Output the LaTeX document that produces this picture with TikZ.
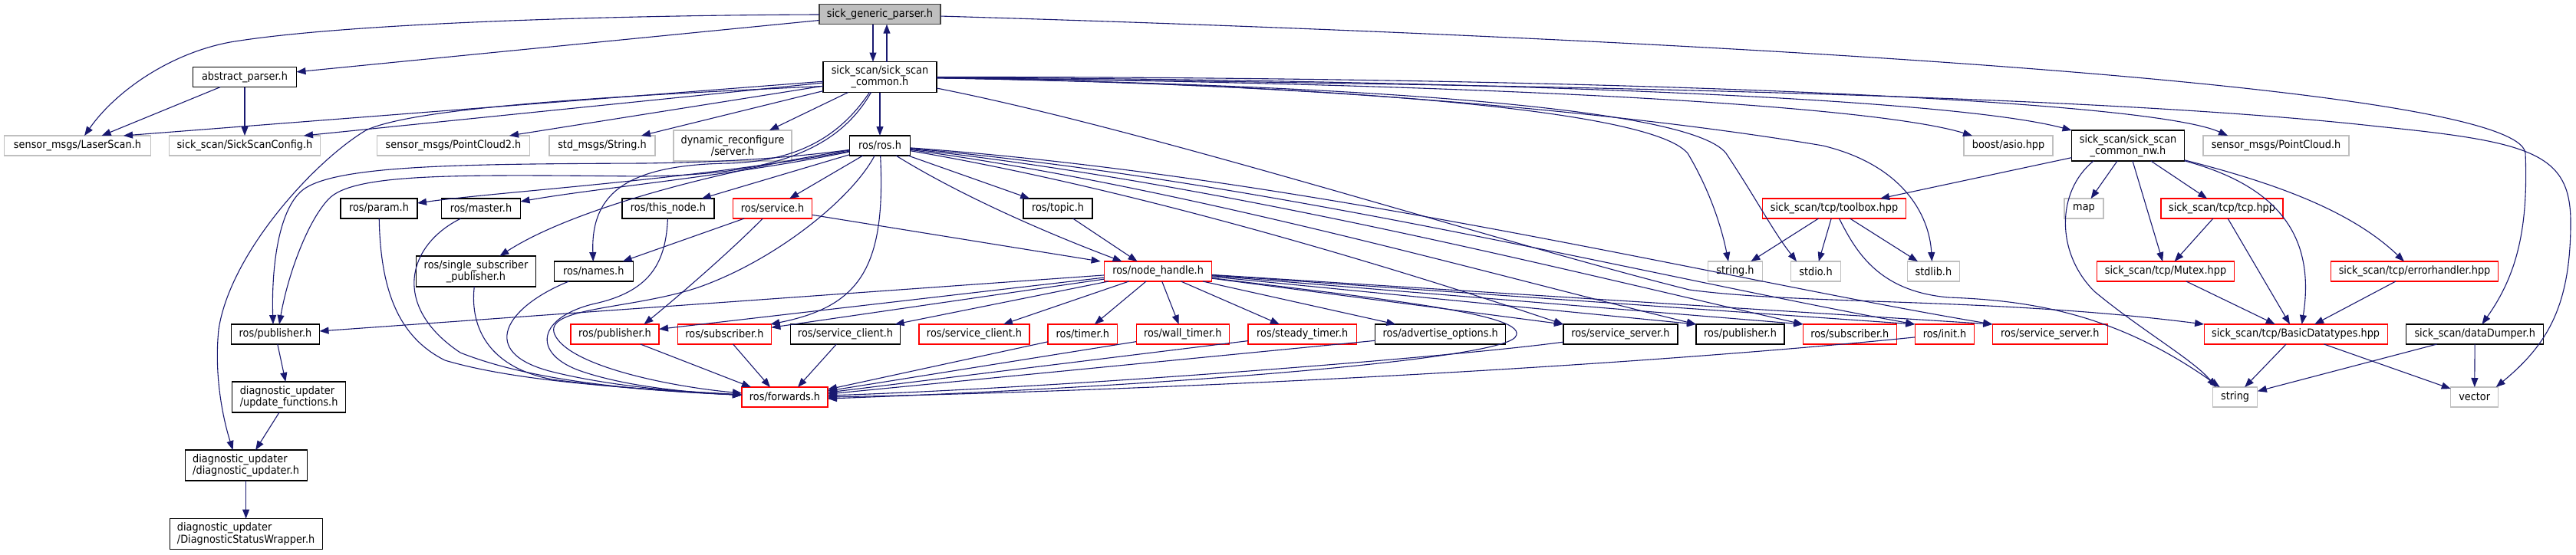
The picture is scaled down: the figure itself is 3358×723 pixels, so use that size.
\documentclass[tikz,border=0pt]{standalone}
\usepackage{fontspec}
\setmainfont{DejaVu Sans}[FakeStretch=0.9]
\usetikzlibrary{arrows.meta}
\definecolor{mblue}{HTML}{191970}
\definecolor{lgray}{HTML}{BFBFBF}
\definecolor{rfill}{HTML}{BFBFBF}
\definecolor{rborder}{HTML}{404040}
\tikzset{
  nd/.style={rectangle, minimum height=26pt, inner sep=0pt, outer sep=0pt, line width=1.2pt,
             font=\fontsize{14.3pt}{14pt}\selectfont},
  blk/.style={nd, draw=black},
  rd/.style={nd, draw=red},
  gry/.style={nd, draw=lgray},
  rootn/.style={nd, draw=rborder, fill=rfill},
  twol/.style={minimum height=40pt, align=center},
  edg/.style={draw=mblue, line width=1.1pt, line join=round,
              -{Triangle[length=12pt,width=9pt]}},
}
\begin{document}
\begin{tikzpicture}[x=1pt,y=-1pt]
\fill[white] (0,0) rectangle (3358,723);
\useasboundingbox (0,0) rectangle (3358,723);
% ---------------- nodes ----------------
\node[rootn, minimum width=158pt] (G) at (1147,18.7) {sick\_generic\_parser.h};
\node[blk, twol, minimum width=148pt] (C) at (1147,100.5) {sick\_scan/sick\_scan\\\_common.h};
\node[blk, minimum width=135pt] (AP) at (319,100.5) {abstract\_parser.h};
\node[gry, minimum width=191pt] (LS) at (101,190) {sensor\_msgs/LaserScan.h};
\node[gry, minimum width=197pt] (SC) at (319,190) {sick\_scan/SickScanConfig.h};
\node[gry, minimum width=199pt] (PC2) at (591,190) {sensor\_msgs/PointCloud2.h};
\node[gry, minimum width=138pt] (STR) at (785,190) {std\_msgs/String.h};
\node[gry, twol, minimum width=154pt] (DYN) at (955,190) {dynamic\_reconfigure\\/server.h};
\node[blk, minimum width=79pt] (R) at (1147,190) {ros/ros.h};
\node[gry, minimum width=116pt] (BA) at (2618,190) {boost/asio.hpp};
\node[blk, twol, minimum width=147pt] (NW) at (2774,190) {sick\_scan/sick\_scan\\\_common\_nw.h};
\node[gry, minimum width=190pt] (PC) at (2967,190) {sensor\_msgs/PointCloud.h};
\node[blk, minimum width=100pt] (PAR) at (494,272) {ros/param.h};
\node[blk, minimum width=103pt] (MAS) at (627,272) {ros/master.h};
\node[blk, minimum width=120pt] (TN) at (871,272) {ros/this\_node.h};
\node[rd, minimum width=103pt] (SRV) at (1007,272) {ros/service.h};
\node[blk, minimum width=90pt] (TOP) at (1379,272) {ros/topic.h};
\node[rd, minimum width=187pt] (TB) at (2391,272) {sick\_scan/tcp/toolbox.hpp};
\node[gry, minimum width=51pt] (MAP) at (2716.5,272) {map};
\node[rd, minimum width=159pt] (TCP) at (2896.5,272) {sick\_scan/tcp/tcp.hpp};
\node[blk, twol, minimum width=156pt] (SSP) at (620.5,354) {ros/single\_subscriber\\\_publisher.h};
\node[blk, minimum width=103pt] (NAM) at (773.7,354) {ros/names.h};
\node[rd, minimum width=140pt] (N) at (1509.6,354) {ros/node\_handle.h};
\node[gry, minimum width=71pt] (STH) at (2262,354) {string.h};
\node[gry, minimum width=65pt] (SIO) at (2367,354) {stdio.h};
\node[gry, minimum width=68pt] (SLB) at (2520.4,354) {stdlib.h};
\node[rd, minimum width=179.5pt] (MUT) at (2823,354) {sick\_scan/tcp/Mutex.hpp};
\node[rd, minimum width=217.5pt] (ERR) at (3147.5,354) {sick\_scan/tcp/errorhandler.hpp};
\node[blk, minimum width=115pt] (PUBL) at (359,436) {ros/publisher.h};
\node[rd, minimum width=115pt] (PUBR) at (801.5,436) {ros/publisher.h};
\node[rd, minimum width=122pt] (SUBR) at (944.4,436) {ros/subscriber.h};
\node[blk, minimum width=143.6pt] (SCB) at (1102,436) {ros/service\_client.h};
\node[rd, minimum width=144pt] (SCR) at (1270,436) {ros/service\_client.h};
\node[rd, minimum width=90.6pt] (TIM) at (1411.3,436) {ros/timer.h};
\node[rd, minimum width=121pt] (WT) at (1541.7,436) {ros/wall\_timer.h};
\node[rd, minimum width=141.5pt] (ST) at (1697.7,436) {ros/steady\_timer.h};
\node[blk, minimum width=170pt] (ADV) at (1877.7,436) {ros/advertise\_options.h};
\node[blk, minimum width=149pt] (SSB) at (2112.4,436) {ros/service\_server.h};
\node[blk, minimum width=115pt] (PUBB) at (2268.5,436) {ros/publisher.h};
\node[rd, minimum width=122pt] (SUB2) at (2411.3,436) {ros/subscriber.h};
\node[rd, minimum width=77.5pt] (INIT) at (2535,436) {ros/init.h};
\node[rd, minimum width=150pt] (SSR) at (2672.3,436) {ros/service\_server.h};
\node[rd, minimum width=239pt] (BD) at (2992.6,436) {sick\_scan/tcp/BasicDatatypes.hpp};
\node[blk, minimum width=179pt] (DD) at (3226.2,436) {sick\_scan/dataDumper.h};
\node[blk, twol, align=left, minimum width=148pt] (UF) at (376.6,518) {diagnostic\_updater\\/update\_functions.h};
\node[rd, minimum width=112pt] (F) at (1023,518) {ros/forwards.h};
\node[gry, minimum width=58.4pt] (STD) at (2913.6,518) {string};
\node[gry, minimum width=62pt] (VEC) at (3225.7,518) {vector};
\node[blk, twol, align=left, minimum width=159pt] (DU) at (320.6,607) {diagnostic\_updater\\/diagnostic\_updater.h};
\node[blk, twol, align=left, minimum width=199pt] (DSW) at (320.6,696.5) {diagnostic\_updater\\/DiagnosticStatusWrapper.h};
% ---------------- edges ----------------
% sick_generic_parser.h
\draw[edg] ([xshift=-9pt]G.south) -- ([xshift=-9pt]C.north);
\draw[edg] ([xshift=9pt]C.north) -- ([xshift=9pt]G.south);
\draw[edg] (G) -- (AP);
\draw[edg] (G) .. controls (800,20) and (450,30) .. (300,55) .. controls (220,70) and (150,120) .. (LS);
\draw[edg] (G) .. controls (2200,50) and (3285,110) .. (3292,200) .. controls (3296,300) and (3280,360) .. (DD);
% abstract_parser.h
\draw[edg] (AP) -- (LS);
\draw[edg] (AP) -- (SC);
% sick_scan_common.h, left
\draw[edg] (C) -- ([xshift=60pt]LS.north);
\draw[edg] (C) -- ([xshift=77pt]SC.north);
\draw[edg] (C) -- ([xshift=73pt]PC2.north);
\draw[edg] (C) -- ([xshift=51pt]STR.north);
\draw[edg] (C) -- ([xshift=48pt]DYN.north);
\draw[edg] (C) -- (R);
\draw[edg] ([yshift=-12pt]C.west) .. controls (800,125) and (540,140) .. (477,170) .. controls (410,210) and (300,330) .. (285,430) .. controls (278,500) and (295,560) .. ([xshift=-17pt]DU.north);
\draw[edg] (C) .. controls (1100,170) and (1050,210) .. (950,213) .. controls (820,215) and (770,250) .. (NAM);
\draw[edg] (C) .. controls (1090,200) and (1000,228) .. (840,230) .. controls (600,228) and (460,225) .. (428,260) .. controls (400,290) and (375,360) .. ([xshift=5pt]PUBL.north);
% sick_scan_common.h, right
\draw[edg] (C) .. controls (2000,110) and (2450,140) .. ([xshift=-47pt]BA.north);
\draw[edg] (C) .. controls (2000,105) and (2550,130) .. (NW.north west);
\draw[edg] (C) .. controls (2100,100) and (2800,130) .. ([xshift=-63pt]PC.north);
\draw[edg] (C) .. controls (1900,110) and (2700,120) .. (3100,165) .. controls (3300,185) and (3351,200) .. (3351,290) .. controls (3351,400) and (3320,450) .. ([xshift=28pt]VEC.north);
\draw[edg] (C) .. controls (1700,110) and (2150,140) .. (2200,200) .. controls (2230,250) and (2245,300) .. ([xshift=-9pt]STH.north);
\draw[edg] (C) .. controls (1700,110) and (2200,135) .. (2250,200) .. controls (2290,260) and (2310,300) .. ([xshift=-25pt]SIO.north);
\draw[edg] (C) .. controls (1800,110) and (2200,160) .. (2376,190) .. controls (2480,215) and (2515,280) .. ([xshift=-2pt]SLB.north);
\draw[edg] (C) .. controls (1500,170) and (1950,315) .. (2202,378) .. controls (2350,398) and (2600,388) .. (BD.north west);
% ros/ros.h
\draw[edg] (R) .. controls (1000,210) and (900,212) .. (840,213) .. controls (600,214) and (430,215) .. (392,250) .. controls (360,280) and (354,360) .. ([xshift=-3pt]PUBL.north);
\draw[edg] (R) .. controls (900,235) and (650,250) .. (PAR);
\draw[edg] (R) .. controls (950,230) and (780,245) .. (MAS);
\draw[edg] (R) .. controls (950,220) and (750,270) .. (SSP);
\draw[edg] (R) -- (TN);
\draw[edg] (R) -- (SRV);
\draw[edg] (R) -- (TOP);
\draw[edg] (R) .. controls (1260,260) and (1380,310) .. ([xshift=-47pt]N.north);
\draw[edg] (R) .. controls (1110,260) and (1010,340) .. (910,375) .. controls (820,405) and (700,400) .. (725,440) .. controls (750,480) and (880,505) .. (F);
\draw[edg] (R) .. controls (1155,350) and (1120,400) .. ([xshift=60pt]SUBR.north);
\draw[edg] (R) .. controls (1500,250) and (1850,360) .. (SSB.north west);
\draw[edg] (R) .. controls (1550,245) and (1950,360) .. (PUBB.north west);
\draw[edg] (R) .. controls (1600,240) and (2050,355) .. (SUB2.north west);
\draw[edg] (R) .. controls (1650,235) and (2150,360) .. (INIT.north west);
\draw[edg] (R) .. controls (1700,230) and (2250,365) .. (SSR.north west);
% ros/service.h, ros/topic.h, ros/this_node.h
\draw[edg] (SRV) -- ([xshift=-75pt]N.north);
\draw[edg] (SRV) -- ([xshift=38pt]NAM.north);
\draw[edg] (SRV) .. controls (950,330) and (880,390) .. ([xshift=38pt]PUBR.north);
\draw[edg] (TOP) -- ([xshift=-27pt]N.north);
\draw[edg] (TN) .. controls (868,340) and (850,378) .. (780,395) .. controls (700,412) and (690,462) .. (760,485) .. controls (820,505) and (900,512) .. (F);
% into ros/forwards.h from the left
\draw[edg] (PAR) .. controls (496,380) and (520,440) .. (580,470) .. controls (680,500) and (850,508) .. (F);
\draw[edg] (MAS) .. controls (530,320) and (510,400) .. (600,460) .. controls (700,500) and (850,510) .. (F);
\draw[edg] (SSP) .. controls (612,430) and (640,480) .. (720,495) .. controls (820,508) and (900,512) .. (F);
\draw[edg] (NAM) .. controls (660,400) and (620,460) .. (720,485) .. controls (800,505) and (900,512) .. (F);
% into ros/forwards.h from above and right
\draw[edg] (PUBR) -- ([xshift=-44pt]F.north);
\draw[edg] (SUBR) -- ([xshift=-19pt]F.north);
\draw[edg] (SCB) -- ([xshift=17pt]F.north);
\draw[edg] (TIM) -- ([yshift=10pt]F.east);
\draw[edg] (WT) -- ([yshift=8pt]F.east);
\draw[edg] (ST) -- ([yshift=6pt]F.east);
\draw[edg] (ADV) -- ([yshift=4pt]F.east);
\draw[edg] (SSB) .. controls (1900,465) and (1400,505) .. ([yshift=2pt]F.east);
\draw[edg] (INIT) .. controls (2100,480) and (1500,510) .. (F.east);
\draw[edg] (N) .. controls (1800,390) and (2000,410) .. (1975,440) .. controls (1950,470) and (1500,505) .. ([yshift=-2pt]F.east);
% ros/node_handle.h
\draw[edg] (N) -- (PUBL);
\draw[edg] (N) -- (PUBR);
\draw[edg] (N) -- (SUBR);
\draw[edg] (N) -- (SCB);
\draw[edg] (N) -- (SCR);
\draw[edg] (N) -- (TIM);
\draw[edg] (N) -- (WT);
\draw[edg] (N) -- (ST);
\draw[edg] (N) -- (ADV);
\draw[edg] (N) -- (SSB.north west);
\draw[edg] (N) -- (PUBB.north west);
\draw[edg] (N) -- (SUB2.north west);
\draw[edg] (N) -- (INIT.north west);
\draw[edg] (N) -- (SSR.north west);
% sick_scan_common_nw.h and tcp
\draw[edg] (NW) -- ([xshift=60pt]TB.north);
\draw[edg] (NW) -- (MAP);
\draw[edg] (NW) -- (TCP);
\draw[edg] (NW) -- (MUT);
\draw[edg] (NW) .. controls (2950,235) and (3060,270) .. (ERR);
\draw[edg] (NW) .. controls (2960,240) and (3020,300) .. ([xshift=8pt]BD.north);
\draw[edg] ([xshift=-45pt]NW.south) .. controls (2680,250) and (2680,330) .. (2730,380) .. controls (2790,430) and (2860,470) .. ([xshift=-25pt]STD.north);
\draw[edg] (TB) -- (STH);
\draw[edg] (TB) -- (SIO);
\draw[edg] (TB) -- (SLB);
\draw[edg] (TB) .. controls (2420,330) and (2450,380) .. (2540,388) .. controls (2650,392) and (2760,410) .. ([xshift=-20pt]STD.north);
\draw[edg] (TCP) -- (MUT);
\draw[edg] (TCP) -- (BD);
\draw[edg] (MUT) -- (BD);
\draw[edg] (ERR) -- (BD);
\draw[edg] (BD) -- (STD);
\draw[edg] (BD) -- (VEC);
\draw[edg] (DD) -- (STD);
\draw[edg] (DD) -- (VEC);
% diagnostic chain
\draw[edg] (PUBL) -- (UF);
\draw[edg] (UF) -- (DU);
\draw[edg] (DU) -- (DSW);
\end{tikzpicture}
\end{document}
